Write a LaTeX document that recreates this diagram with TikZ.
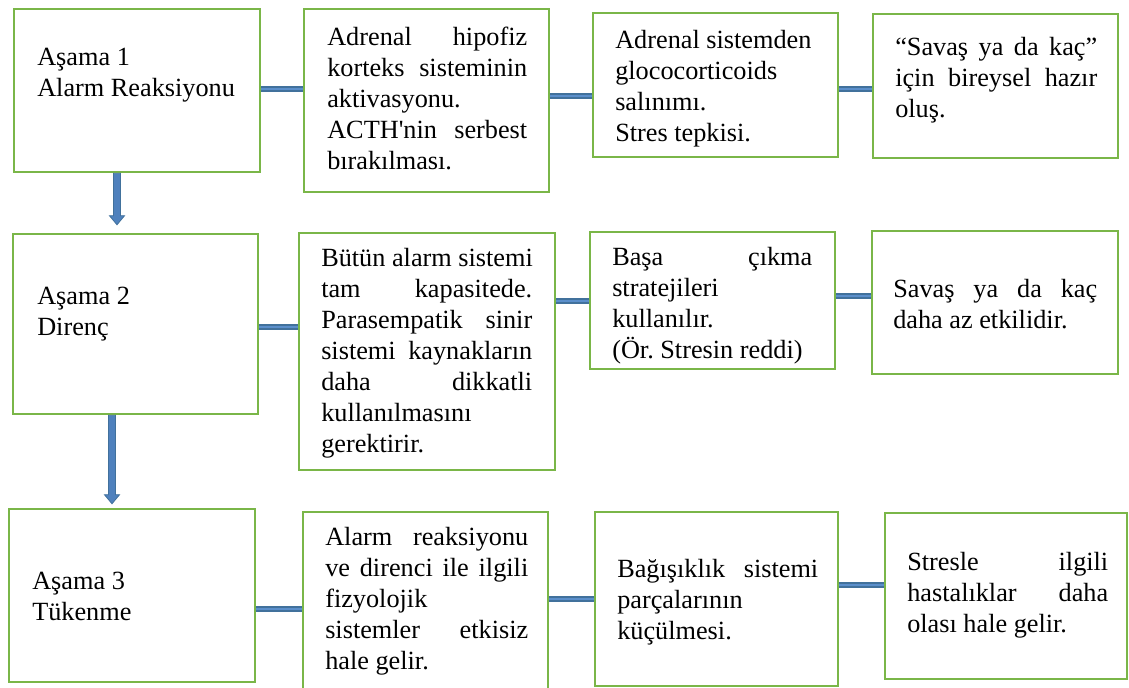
\documentclass[tikz,border=0pt]{standalone}
\usepackage{fontspec}
\setmainfont{Liberation Serif}
\newfontfamily\aposfont{Liberation Serif}
\usetikzlibrary{calc}
\definecolor{gline}{HTML}{7AB648}
\definecolor{bdark}{HTML}{41719C}
\definecolor{blite}{HTML}{5B8FCB}
\definecolor{bfill}{HTML}{4F81BD}
\newcommand\jl[1]{\makebox[\hsize][s]{\spaceskip=.25em plus 1fil\relax\xspaceskip=.25em plus 1fil\relax #1}}
\newcommand\bx[5]{%
  \pgfmathsetmacro\bw{(#4-#2)*0.75}%
  \pgfmathsetmacro\bh{(#5-#3)*0.75}%
  \node[gbox, minimum width=\bw pt, minimum height=\bh pt] (#1) at ({(#2+#4)/2},{(#3+#5)/2}) {};}
\newcommand\varrow[4]{%
  \draw[blk] ($(#3,0 |- #1.south)+(-3.5,0)$) -- ($(#3,0 |- #2.north)+(-3.5,-#4-9)$) -- ++(-4,0)
    -- ($(#3,0 |- #2.north)+(0,-#4)$) -- ($(#3,0 |- #2.north)+(7.5,-#4-9)$) -- ++(-4,0)
    -- ($(#3,0 |- #1.south)+(3.5,0)$) -- cycle;}
\begin{document}
\begin{tikzpicture}[x=0.75pt,y=-0.75pt,
  gbox/.style={draw=gline, line width=1.9pt, fill=white, inner sep=0pt, rectangle},
  txt/.style={font=\fontsize{19.7}{23.25}\selectfont\frenchspacing, inner sep=0pt, align=left, anchor=base west,
    execute at begin node={\spaceskip=0pt\xspaceskip=0pt\relax}},
  conn/.style={draw=bdark, line width=1.5pt, double=blite, double distance=1.9pt},
  blk/.style={fill=bfill, draw=bdark, line width=0.6pt}]
\fill[white] (0,0) rectangle (1129,687);
\useasboundingbox (0,0) rectangle (1129,687);
% boxes
\bx{a1}{14}{9}{260}{172}
\bx{b1}{304}{9}{549}{192}
\bx{c1}{593}{13}{838}{157}
\bx{d1}{873}{14}{1118}{158}
\bx{a2}{13}{234}{258}{414}
\bx{b2}{299}{233}{555}{470}
\bx{c2}{590}{232}{835}{369}
\bx{d2}{872}{231}{1118}{374}
\bx{a3}{9}{509}{255}{682}
\bx{b3}{303}{512}{548}{700}
\bx{c3}{595}{512}{838}{686}
\bx{d3}{885}{513}{1127}{679}
% texts
\node[txt, text width=160pt] (a1t) at (37,65) {Aşama 1\\Alarm Reaksiyonu};
\node[txt, text width=150pt] (b1t) at (327,45) {\jl{Adrenal hipofiz}\\\jl{korteks sisteminin}\\aktivasyonu.\\\jl{ACTH{\aposfont'}nin serbest}\\bırakılması.};
\node[txt, text width=150pt] (c1t) at (615,48) {Adrenal sistemden\\glococorticoids\\salınımı.\\Stres tepkisi.};
\node[txt, text width=151.5pt] (d1t) at (895,55) {\jl{“Savaş ya da kaç”}\\\jl{için bireysel hazır}\\oluş.};
\node[txt, text width=160pt] (a2t) at (37,304) {Aşama 2\\Direnç};
\node[txt, text width=158.25pt] (b2t) at (321,266) {\jl{Bütün alarm sistemi}\\\jl{tam kapasitede.}\\\jl{Parasempatik sinir}\\\jl{sistemi kaynakların}\\\jl{daha dikkatli}\\kullanılmasını\\gerektirir.};
\node[txt, text width=150pt] (c2t) at (612,265) {\jl{Başa çıkma}\\stratejileri\\kullanılır.\\(Ör. Stresin reddi)};
\node[txt, text width=153pt] (d2t) at (893,297) {\jl{Savaş ya da kaç}\\daha az etkilidir.};
\node[txt, text width=160pt] (a3t) at (32,589) {Aşama 3\\Tükenme};
\node[txt, text width=152.25pt] (b3t) at (325,545) {\jl{Alarm reaksiyonu}\\\jl{ve direnci ile ilgili}\\fizyolojik\\\jl{sistemler etkisiz}\\hale gelir.};
\node[txt, text width=150.75pt] (c3t) at (617,577) {\jl{Bağışıklık sistemi}\\parçalarının\\küçülmesi.};
\node[txt, text width=150.75pt] (d3t) at (907,570) {\jl{Stresle ilgili}\\\jl{hastalıklar daha}\\olası hale gelir.};
% horizontal connectors
\draw[conn] (a1.east |- 0,89) -- (b1.west |- 0,89);
\draw[conn] (b1.east |- 0,96) -- (c1.west |- 0,96);
\draw[conn] (c1.east |- 0,89) -- (d1.west |- 0,89);
\draw[conn] (a2.east |- 0,327) -- (b2.west |- 0,327);
\draw[conn] (b2.east |- 0,301) -- (c2.west |- 0,301);
\draw[conn] (c2.east |- 0,296) -- (d2.west |- 0,296);
\draw[conn] (a3.east |- 0,609) -- (b3.west |- 0,609);
\draw[conn] (b3.east |- 0,599) -- (c3.west |- 0,599);
\draw[conn] (c3.east |- 0,585) -- (d3.west |- 0,585);
% vertical arrows
\varrow{a1}{a2}{117}{8}
\varrow{a2}{a3}{112}{4}
\end{tikzpicture}
\end{document}
